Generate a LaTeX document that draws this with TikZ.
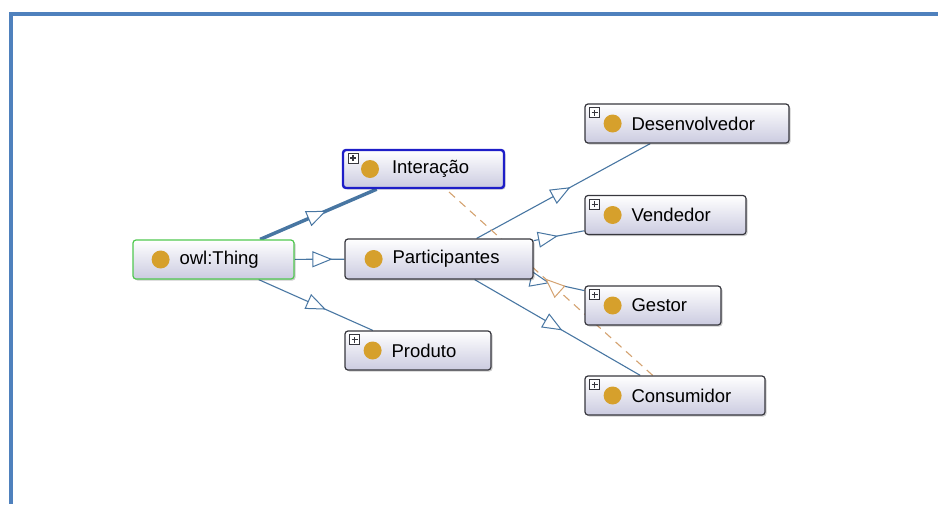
\documentclass[tikz,border=0pt]{standalone}
\usepackage{fontspec}
\setmainfont{Liberation Sans}
\usetikzlibrary{positioning,arrows.meta,decorations.markings,backgrounds,shadows}
\definecolor{framec}{RGB}{79,129,189}
\definecolor{edgec}{RGB}{72,118,162}
\definecolor{boxline}{RGB}{55,55,62}
\definecolor{boxbot}{RGB}{203,203,224}
\definecolor{dotc}{RGB}{214,160,44}
\definecolor{dashc}{RGB}{212,162,112}
\definecolor{thingc}{RGB}{80,200,80}
\definecolor{selc}{RGB}{30,30,200}

\begin{document}
\begin{tikzpicture}[x=1pt,y=-1pt,
   cls/.style={draw=boxline, line width=1.2pt, rounded corners=3pt, top color=white, bottom color=boxbot,
      minimum height=39pt, inner sep=0pt,
      drop shadow={shadow xshift=1.5pt, shadow yshift=-1.5pt, fill=black, opacity=0.2}},
   dot/.style={circle, fill=dotc, minimum size=18pt, inner sep=0pt},
   lbl/.style={inner sep=0pt, font=\fontsize{18.5}{21}\selectfont},
   plusbox/.style={draw=boxline, line width=0.6pt, fill=white, minimum size=10pt, inner sep=0pt,
      path picture={\draw[line width=1.3pt] (path picture bounding box.center) +(-3pt,0) -- +(3pt,0)
         (path picture bounding box.center) +(0,-3pt) -- +(0,3pt);}},
   isa/.style={draw=edgec, line width=1.1pt, postaction={decorate},
      decoration={markings, mark=at position #1 with {\arrow{Triangle[length=20pt, width=16pt, fill=white, line width=1pt]}}}},
   ]
   \useasboundingbox (0,0) rectangle (938,504);
   \draw[framec, line width=4.5pt] (938,14) -- (11,14) -- (11,504);

   \node[cls, draw=thingc, minimum width=161pt] (thing) at (213.5,259.5) {};
   \node[dot, right=19pt of thing.west] (thing-d) {};
   \node[lbl, right=47pt of thing.west] (thing-t) {owl:Thing};

   \node[cls, draw=selc, line width=2.4pt, minimum width=161pt, minimum height=38pt] (inter) at (423.5,169) {};
   \node[dot, right=19pt of inter.west] (inter-d) {};
   \node[lbl, right=50pt of inter.west] (inter-t) {Interação};
   \node[plusbox, below right=4pt and 6pt of inter.north west] (inter-p) {};

   \node[cls, minimum width=188pt, minimum height=40pt] (part) at (439,259) {};
   \node[dot, right=20pt of part.west] (part-d) {};
   \node[lbl, right=48pt of part.west] (part-t) {Participantes};

   \node[cls, minimum width=146pt] (prod) at (418,350.5) {};
   \node[dot, right=19pt of prod.west] (prod-d) {};
   \node[lbl, right=47pt of prod.west] (prod-t) {Produto};
   \node[plusbox, below right=4pt and 5pt of prod.north west] (prod-p) {};

   \node[cls, minimum width=204pt] (dev) at (687,123.5) {};
   \node[dot, right=19pt of dev.west] (dev-d) {};
   \node[lbl, right=47pt of dev.west] (dev-t) {Desenvolvedor};
   \node[plusbox, below right=4pt and 5pt of dev.north west] (dev-p) {};

   \node[cls, minimum width=161pt] (vend) at (665.5,215) {};
   \node[dot, right=19pt of vend.west] (vend-d) {};
   \node[lbl, right=47pt of vend.west] (vend-t) {Vendedor};
   \node[plusbox, below right=4pt and 5pt of vend.north west] (vend-p) {};

   \node[cls, minimum width=136pt] (gest) at (653,305.5) {};
   \node[dot, right=19pt of gest.west] (gest-d) {};
   \node[lbl, right=47pt of gest.west] (gest-t) {Gestor};
   \node[plusbox, below right=4pt and 5pt of gest.north west] (gest-p) {};

   \node[cls, minimum width=180pt] (cons) at (675,395.5) {};
   \node[dot, right=19pt of cons.west] (cons-d) {};
   \node[lbl, right=47pt of cons.west] (cons-t) {Consumidor};
   \node[plusbox, below right=4pt and 5pt of cons.north west] (cons-p) {};

   \begin{scope}[on background layer]
      \draw[isa=0.57, line width=3.5pt] (thing) -- (inter);
      \draw[isa=0.76] (thing) -- (part);
      \draw[isa=0.59] (thing) -- (prod);
      \draw[isa=0.54] (part) -- (dev);
      \draw[isa=0.48] (part) -- (vend);
      \draw[isa=0.32] (part) -- (gest);
      \draw[isa=0.53] (part) -- (cons);
      \draw[isa=0.52, draw=dashc, dash pattern=on 8pt off 6pt] (cons) -- (inter);
   \end{scope}
\end{tikzpicture}
\end{document}
